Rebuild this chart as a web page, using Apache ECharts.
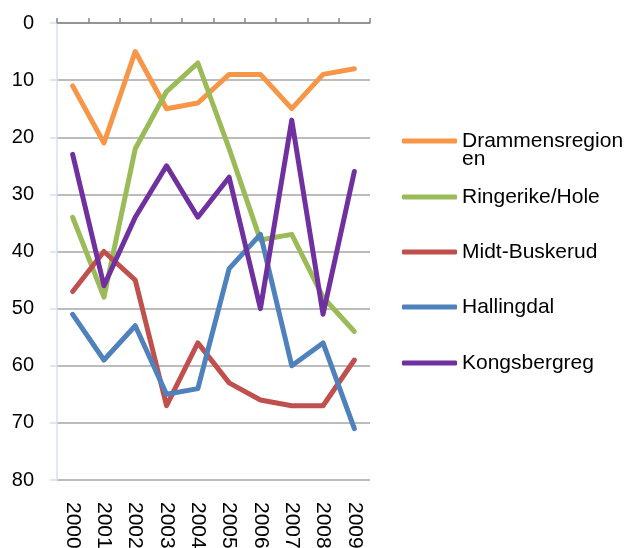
<!DOCTYPE html>
<html>
<head>
<meta charset="utf-8">
<script src="https://cdn.jsdelivr.net/npm/echarts@6/dist/echarts.min.js"></script>
<style>
  html, body { margin: 0; padding: 0; background: #fff; }
  #chart { width: 627px; height: 548px; }
</style>
</head>
<body>
<div id="chart"></div>
<script>
// data
const years = ['2000', '2001', '2002', '2003', '2004', '2005', '2006', '2007', '2008', '2009'];
const yTicks = [0, 10, 20, 30, 40, 50, 60, 70, 80];
const drammensregionen = [11, 21, 5, 15, 14, 9, 9, 15, 9, 8];
const ringerikeHole = [34, 48, 22, 12, 7, 22, 38, 37, 48, 54];
const midtBuskerud = [47, 40, 45, 67, 56, 63, 66, 67, 67, 59];
const hallingdal = [51, 59, 53, 65, 64, 43, 37, 60, 56, 71];
const kongsbergreg = [23, 46, 34, 25, 34, 27, 50, 17, 51, 26];

const names = ['Drammensregionen', 'Ringerike/Hole', 'Midt-Buskerud', 'Hallingdal', 'Kongsbergreg'];
const colors = ['#F79646', '#9BBB59', '#C0504D', '#4F81BD', '#7030A0'];
const values = [drammensregionen, ringerikeHole, midtBuskerud, hallingdal, kongsbergreg];
const legendY = [133, 189, 244, 299, 355];

const font = 'Liberation Sans, Arial, sans-serif';

const chart = echarts.init(document.getElementById('chart'));

const series = names.map((n, i) => ({
  name: n,
  type: 'line',
  data: values[i],
  symbol: 'none',
  color: colors[i],
  lineStyle: { width: 5, color: colors[i], cap: 'round', join: 'round' },
  emphasis: { disabled: true },
  animation: false
}));

// one legend per entry so each row sits where the original has it
const legends = names.map((n, i) => ({
  data: [{ name: n, icon: 'roundRect' }],
  left: 402,
  top: legendY[i] - 2.5,
  itemWidth: 55,
  itemHeight: 5,
  itemGap: 0,
  padding: 0,
  selectedMode: false,
  formatter: n === 'Drammensregionen' ? 'Drammensregion' : n,
  textStyle: { fontSize: 21, color: '#000', fontFamily: font }
}));

const option = {
  animation: false,
  grid: { left: 57, right: 257, top: 23, bottom: 68, containLabel: false, outerBoundsMode: 'none' },
  legend: legends,
  xAxis: [
    {
      type: 'category',
      data: years,
      position: 'bottom',
      boundaryGap: true,
      axisLine: { show: false },
      axisTick: { show: false },
      axisLabel: { interval: 0, rotate: -90, margin: 22, fontSize: 21, color: '#000', fontFamily: font }
    },
    {
      type: 'category',
      data: years,
      position: 'top',
      boundaryGap: true,
      axisLine: { show: true, lineStyle: { color: '#868686', width: 1.5 } },
      axisTick: { show: true, interval: 0, length: 5, lineStyle: { color: '#868686', width: 1.5 } },
      axisLabel: { show: false, interval: 0 }
    }
  ],
  yAxis: {
    type: 'value',
    inverse: true,
    min: yTicks[0],
    max: yTicks[yTicks.length - 1],
    interval: 10,
    axisLine: { show: true, lineStyle: { color: '#D4E0EF', width: 1.5 } },
    axisTick: { show: true, length: 7, lineStyle: { color: '#D4E0EF', width: 1.5 } },
    axisLabel: { margin: 23, fontSize: 20, color: '#000', fontFamily: font },
    splitLine: { show: true, lineStyle: { color: '#A6A6A6', width: 1.5 } }
  },
  graphic: [
    {
      type: 'text',
      left: 462,
      top: 149,
      style: { text: 'en', fontSize: 21, fill: '#000', font: '21px ' + font }
    }
  ],
  series: series
};

option && chart.setOption(option);
</script>
</body>
</html>
